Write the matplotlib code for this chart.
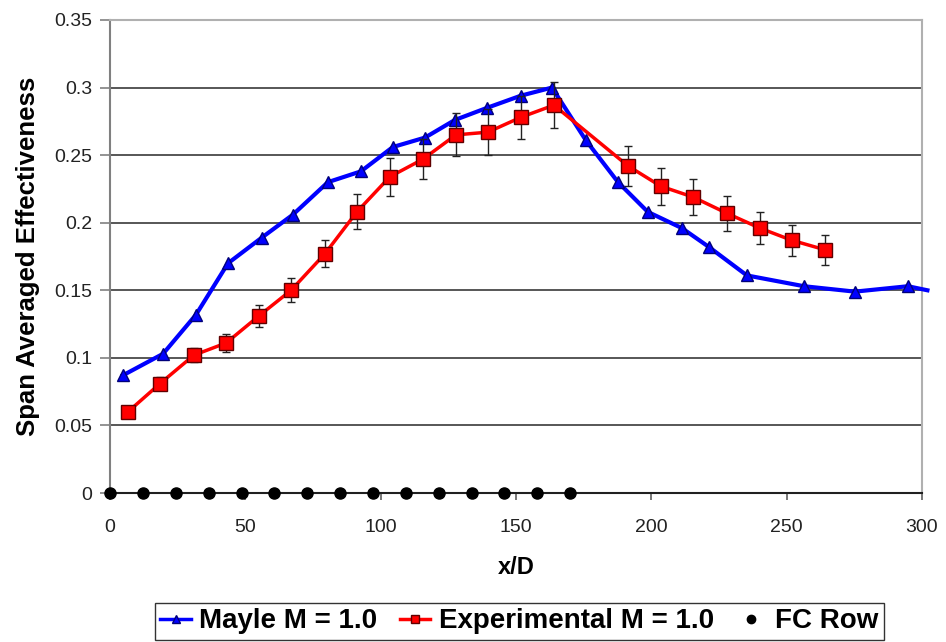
import numpy as np
import matplotlib.pyplot as plt
from matplotlib.lines import Line2D

plt.rcParams['font.family'] = ['Liberation Sans', 'DejaVu Sans']

# Mayle M = 1.0 (last point lies just past the right edge)
mayle_x = [4.7, 19.6, 31.8, 43.6, 56.1, 67.6, 80.5, 92.7, 104.5, 116.4, 127.4, 139.3,
           151.8, 163.3, 175.8, 187.7, 198.7, 211.3, 221.3, 235.3, 256.4, 275.2, 294.8, 302.0]
mayle_y = [0.087, 0.103, 0.132, 0.170, 0.189, 0.206, 0.230, 0.238, 0.256, 0.263, 0.276, 0.285,
           0.294, 0.300, 0.261, 0.230, 0.208, 0.196, 0.182, 0.161, 0.153, 0.149, 0.153, 0.150]

# Experimental M = 1.0 with error bars
exp_x = [6.6, 18.5, 31.0, 42.9, 55.0, 66.9, 79.4, 91.2, 103.4, 115.6, 127.8, 139.6,
         151.8, 164.0, 191.4, 203.5, 215.4, 227.9, 240.1, 251.9, 264.1]
exp_y = [0.060, 0.081, 0.102, 0.111, 0.131, 0.150, 0.177, 0.208, 0.234, 0.247, 0.265, 0.267,
         0.278, 0.287, 0.242, 0.227, 0.219, 0.207, 0.196, 0.187, 0.180]
exp_err = [0.002, 0.005, 0.005, 0.007, 0.008, 0.009, 0.010, 0.013, 0.014, 0.015, 0.016, 0.017,
           0.016, 0.017, 0.0145, 0.0137, 0.013, 0.013, 0.012, 0.0115, 0.011]

# film cooling rows
fc_x = [0, 12.1, 24.3, 36.4, 48.6, 60.7, 72.9, 85.0, 97.1, 109.3, 121.4, 133.6, 145.7, 157.9, 170.0]
fc_y = [0] * len(fc_x)

fig = plt.figure(figsize=(9.46, 6.42), dpi=100)
ax = fig.add_axes([110 / 946, 1 - 493 / 642, 812 / 946, 473 / 642])

ax.set_xlim(0, 300)
ax.set_ylim(0, 0.35)
ax.set_yticks(np.arange(0, 0.351, 0.05))
ax.set_yticklabels(['0', '0.05', '0.1', '0.15', '0.2', '0.25', '0.3', '0.35'])
ax.set_xticks(np.arange(0, 301, 50))

for yv in np.arange(0.05, 0.351, 0.05):
    ax.axhline(yv, color='#3a3a3a', lw=1.2, zorder=1)

ax.plot(mayle_x, mayle_y, color='#0000ff', lw=3, marker='^', ms=9,
        mfc='#0000ff', mec='#00007a', markevery=list(range(len(mayle_x) - 1)),
        clip_on=False, zorder=3)
ax.errorbar(exp_x, exp_y, yerr=exp_err, color='#ff0000', lw=2.5, marker='s', ms=10,
            mfc='#ff0000', mec='#600000', ecolor='#222222', elinewidth=1, capsize=3,
            capthick=1, zorder=4)
ax.plot(fc_x, fc_y, ls='none', marker='o', ms=8, color='black', clip_on=False, zorder=5)

for s in ['top', 'right']:
    ax.spines[s].set_color('#b0b0b0')
    ax.spines[s].set_linewidth(1.5)
ax.spines['left'].set_color('#808080')
ax.spines['left'].set_linewidth(1.5)
ax.spines['bottom'].set_color('#202020')
ax.spines['bottom'].set_linewidth(1.5)

ax.tick_params(axis='both', labelsize=14, colors='#222222')
ax.tick_params(axis='y', length=7, width=1.2, color='#808080', pad=6)
ax.tick_params(axis='x', length=5, width=1.2, color='#606060', pad=14)

ax.set_xlabel('x/D', fontsize=17, fontweight='bold')
ax.xaxis.set_label_coords(0.5, -(556 - 493) / 473)
ax.set_ylabel('Span Averaged Effectiveness', fontsize=18.5, fontweight='bold', labelpad=10)

handles = [
    Line2D([], [], color='#0000ff', lw=2.5, marker='^', ms=6, mfc='#0000ff', mec='#00007a'),
    Line2D([], [], color='#ff0000', lw=2.5, marker='s', ms=6, mfc='#ff0000', mec='#600000'),
    Line2D([], [], ls='none', marker='o', ms=6, color='black'),
]
labels = ['Mayle M = 1.0', 'Experimental M = 1.0', 'FC Row']
leg = fig.legend(handles, labels, loc='lower center', bbox_to_anchor=(0.549, 2 / 642), ncol=3,
                 prop={'weight': 'bold', 'size': 20}, frameon=True, fancybox=False,
                 edgecolor='black', handlelength=1.1, handletextpad=0.3,
                 columnspacing=0.8, borderpad=0.2, borderaxespad=0)
leg.get_frame().set_linewidth(1.0)

fig.savefig('out.png', dpi=100)
